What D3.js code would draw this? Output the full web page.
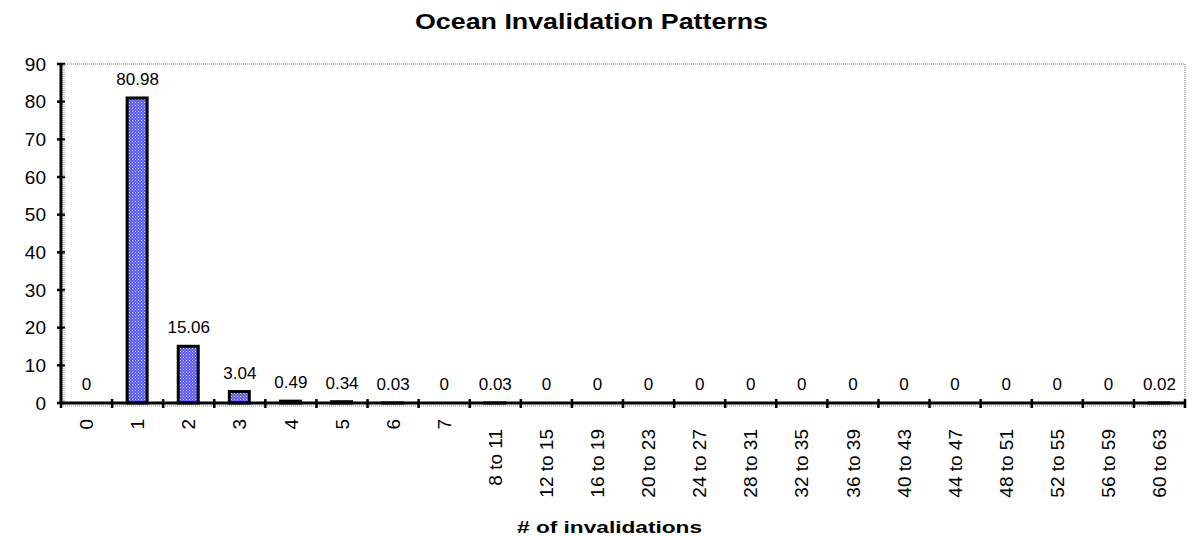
<!DOCTYPE html>
<html><head><meta charset="utf-8">
<script src="https://cdn.jsdelivr.net/npm/d3@7"></script>
<style>body{margin:0;background:#fff;}svg{display:block;font-family:"Liberation Sans",Arial,sans-serif;}</style>
</head><body>
<svg id="chart" width="1194" height="536"></svg>
<script>
const categories = ["0","1","2","3","4","5","6","7","8 to 11","12 to 15","16 to 19","20 to 23","24 to 27","28 to 31","32 to 35","36 to 39","40 to 43","44 to 47","48 to 51","52 to 55","56 to 59","60 to 63"];
const values = [0,80.98,15.06,3.04,0.49,0.34,0.03,0,0.03,0,0,0,0,0,0,0,0,0,0,0,0,0.02];
const valueLabels = ["0","80.98","15.06","3.04","0.49","0.34","0.03","0","0.03","0","0","0","0","0","0","0","0","0","0","0","0","0.02"];
const yTicks = [0,10,20,30,40,50,60,70,80,90];
const title = "Ocean Invalidation Patterns";
const xTitle = "# of invalidations";

const svg = d3.select("#chart");
const L = 61, R = 1185, T = 64, B = 403;

const defs = svg.append("defs");
const pat = defs.append("pattern").attr("id","dots").attr("width",3).attr("height",3).attr("patternUnits","userSpaceOnUse");
pat.append("rect").attr("width",3).attr("height",3).attr("fill","#5a5af0");
pat.append("rect").attr("x",0).attr("y",0).attr("width",1).attr("height",1).attr("fill","#d8d8ff");
pat.append("rect").attr("x",1.5).attr("y",1.5).attr("width",1).attr("height",1).attr("fill","#b0b0ff");

const xb = d3.scaleBand().domain(categories).range([L,R]).padding(0);
const y = d3.scaleLinear().domain([0,90]).range([B,T]);

// plot border (top/right)
svg.append("path").attr("d",`M${L},${T}H${R}V${B}`).attr("fill","none")
  .attr("stroke","#777").attr("stroke-width",1.2).attr("stroke-dasharray","1,1");

// bars
svg.append("g").selectAll("rect").data(values).join("rect")
  .attr("x",(d,i)=>xb(categories[i]) + xb.bandwidth()/2 - 10.5)
  .attr("width",20)
  .attr("y",d=>y(d))
  .attr("height",d=>B - y(d))
  .attr("fill","url(#dots)")
  .attr("stroke","#000").attr("stroke-width",3);

// value labels
svg.append("g").selectAll("text").data(values).join("text")
  .attr("x",(d,i)=>xb(categories[i]) + xb.bandwidth()/2)
  .attr("y",d=>y(d) - 13)
  .attr("text-anchor","middle").attr("font-size",17).attr("fill","#000")
  .text((d,i)=>valueLabels[i]);

// y axis
const yAxis = d3.axisLeft(y).tickValues(yTicks).tickSize(0).tickPadding(15);
const gy = svg.append("g").attr("transform",`translate(${L},0)`).call(yAxis);
gy.select(".domain").remove();
gy.selectAll("text").attr("font-size",19).attr("fill","#000").attr("font-family","Liberation Sans, Arial, sans-serif");
svg.append("g").selectAll("line").data(yTicks).join("line")
  .attr("x1",L-4).attr("x2",L+4).attr("y1",d=>y(d)).attr("y2",d=>y(d))
  .attr("stroke","#000").attr("stroke-width",2.5);
svg.append("line").attr("x1",L).attr("x2",L).attr("y1",T-1).attr("y2",B+1).attr("stroke","#000").attr("stroke-width",3);
svg.append("line").attr("x1",L+3).attr("x2",L+3).attr("y1",T).attr("y2",B).attr("stroke","#888").attr("stroke-width",1).attr("stroke-dasharray","1,1");

// x axis
svg.append("line").attr("x1",L).attr("x2",R).attr("y1",B).attr("y2",B).attr("stroke","#000").attr("stroke-width",3);
svg.append("line").attr("x1",L).attr("x2",R).attr("y1",B+3).attr("y2",B+3).attr("stroke","#888").attr("stroke-width",1).attr("stroke-dasharray","1,1");
const xTickPos = categories.map(c=>xb(c)).concat([R]);
svg.append("g").selectAll("line").data(xTickPos).join("line")
  .attr("x1",d=>d).attr("x2",d=>d).attr("y1",B-4).attr("y2",B+5)
  .attr("stroke","#000").attr("stroke-width",2.5);

// x tick labels (rotated)
svg.append("g").selectAll("text").data(categories).join("text")
  .attr("transform",(d)=>{
    const cx = xb(d) + xb.bandwidth()/2;
    const top = d.length === 1 ? 419 : 429;
    return `translate(${cx},${top}) rotate(-90)`;
  })
  .attr("dy","0.35em")
  .attr("text-anchor","end").attr("font-size",19).attr("fill","#000")
  .text(d=>d);

// titles
svg.append("text").attr("x",415).attr("y",29)
  .attr("font-size",22).attr("font-weight","bold")
  .attr("textLength",353).attr("lengthAdjust","spacingAndGlyphs").text(title);
svg.append("text").attr("x",517).attr("y",533)
  .attr("font-size",16).attr("font-weight","bold")
  .attr("textLength",185).attr("lengthAdjust","spacingAndGlyphs").text(xTitle);
</script>
</body></html>
